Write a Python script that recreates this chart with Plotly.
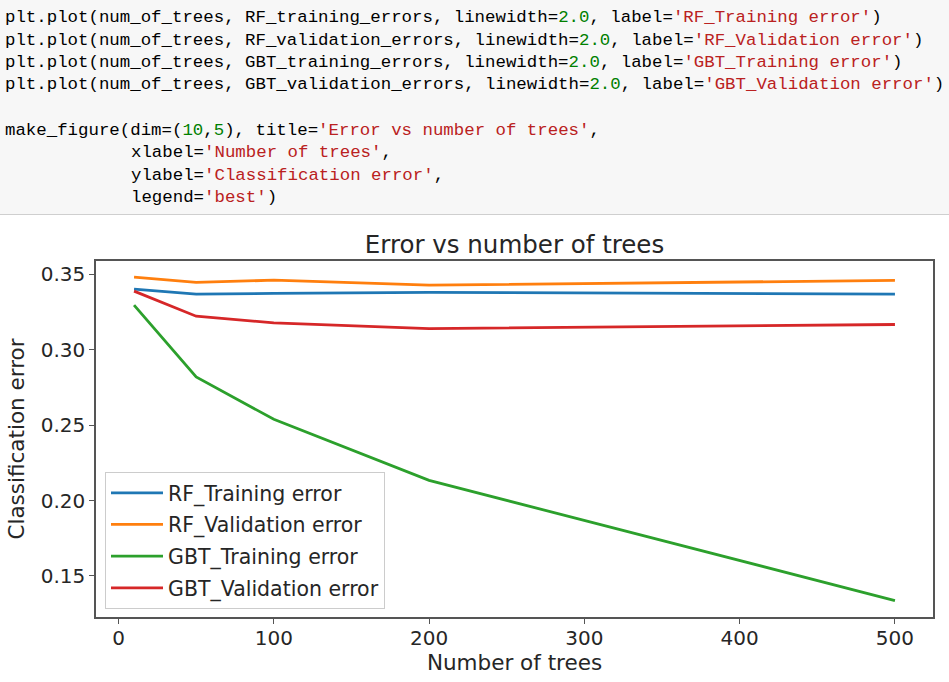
import plotly.graph_objects as go

# ---- data ----
num_of_trees = [10, 50, 100, 200, 500]
RF_training_errors = [0.3402, 0.3369, 0.3374, 0.3381, 0.3369]
RF_validation_errors = [0.3482, 0.3447, 0.3462, 0.3429, 0.3460]
GBT_training_errors = [0.3296, 0.2820, 0.2539, 0.2134, 0.1337]
GBT_validation_errors = [0.3389, 0.3223, 0.3179, 0.3141, 0.3168]

series_names = ["RF_Training error", "RF_Validation error",
                "GBT_Training error", "GBT_Validation error"]
series_values = [RF_training_errors, RF_validation_errors,
                 GBT_training_errors, GBT_validation_errors]
series_colors = ["#1f77b4", "#ff7f0e", "#2ca02c", "#d62728"]

x_ticks = [0, 100, 200, 300, 400, 500]
y_ticks = [0.15, 0.20, 0.25, 0.30, 0.35]

title_text = "Error vs number of trees"
xlabel_text = "Number of trees"
ylabel_text = "Classification error"

# ---- layout geometry (pixels) ----
W, H = 949, 682
L, R, T, B = 96, 16, 261, 65
PW, PH = W - L - R, H - T - B


def xp(px):
    return (px - L) / PW


def yp(py):
    return (H - B - py) / PH


fig = go.Figure()
for i, (name, vals, col) in enumerate(zip(series_names, series_values, series_colors)):
    fig.add_trace(go.Scatter(
        x=num_of_trees, y=vals, mode="lines", name=name,
        line=dict(color=col, width=2.8), legendgroup=f"g{i}",
    ))

# ---- code cell (notebook input above the chart) ----
G = "#008000"
S = "#BA2121"
Q = chr(39)


def num(t):
    return f'<span style="color:{G}">{t}</span>'


def st(t):
    return f'<span style="color:{S}">{Q}{t}{Q}</span>'


code_lines = [
    (3, 17, f"plt.plot(num_of_trees, RF_training_errors, linewidth={num('2.0')}, label={st('RF_Training error')})"),
    (3, 40, f"plt.plot(num_of_trees, RF_validation_errors, linewidth={num('2.0')}, label={st('RF_Validation error')})"),
    (3, 62, f"plt.plot(num_of_trees, GBT_training_errors, linewidth={num('2.0')}, label={st('GBT_Training error')})"),
    (3, 85, f"plt.plot(num_of_trees, GBT_validation_errors, linewidth={num('2.0')}, label={st('GBT_Validation error')})"),
    (3, 130, f"make_figure(dim=({num('10')},{num('5')}), title={st('Error vs number of trees')},"),
    (129, 152, f"xlabel={st('Number of trees')},"),
    (129, 175, f"ylabel={st('Classification error')},"),
    (129, 197, f"legend={st('best')})"),
]

annotations = []
for px, py, txt in code_lines:
    annotations.append(dict(
        x=xp(px), y=yp(py), xref="paper", yref="paper",
        xanchor="left", yanchor="middle", showarrow=False, align="left",
        text=txt, font=dict(family="Liberation Mono", size=17.4, color="#000000"),
    ))

shapes = [
    dict(type="rect", xref="paper", yref="paper",
         x0=xp(0), x1=xp(W), y0=yp(214), y1=yp(0),
         fillcolor="#f7f7f7", line=dict(width=0), layer="below"),
    dict(type="line", xref="paper", yref="paper",
         x0=xp(0), x1=xp(W), y0=yp(214.5), y1=yp(214.5),
         line=dict(color="#cfcfcf", width=1)),
]

axis_common = dict(
    showgrid=False, zeroline=False, showline=True, mirror=True,
    linecolor="#555555", linewidth=1.6, ticks="outside", ticklen=5,
    tickwidth=1.3, tickcolor="#555555",
    tickfont=dict(family="DejaVu Sans", size=20, color="#262626"),
)

fig.update_layout(
    width=W, height=H,
    margin=dict(l=L, r=R, t=T, b=B, autoexpand=False),
    paper_bgcolor="white", plot_bgcolor="white",
    title=dict(text=title_text, x=xp((L + W - R) / 2), xref="paper", xanchor="center",
               y=1 - 244 / H, yref="container", yanchor="middle",
               font=dict(family="DejaVu Sans", size=24.5, color="#262626")),
    xaxis=dict(range=[-14.5, 524.5], tickvals=x_ticks, ticklabelstandoff=-3,
               title=dict(text=xlabel_text, standoff=2,
                          font=dict(family="DejaVu Sans", size=21.5, color="#262626")),
               **axis_common),
    yaxis=dict(range=[0.1228, 0.3589], tickvals=y_ticks, tickformat=".2f",
               title=dict(text=ylabel_text, standoff=10,
                          font=dict(family="DejaVu Sans", size=21.5, color="#262626")),
               **axis_common),
    legend=dict(x=xp(105), y=yp(472), xanchor="left", yanchor="top",
                bgcolor="rgba(255,255,255,0.85)", bordercolor="#cccccc", borderwidth=1,
                font=dict(family="DejaVu Sans", size=20.5, color="#262626"),
                traceorder="grouped", tracegroupgap=2, itemwidth=52),
    shapes=shapes,
    annotations=annotations,
    showlegend=True,
)

fig.write_html("out.html", config={"displayModeBar": False},
               post_script="document.body.style.margin='0';")
